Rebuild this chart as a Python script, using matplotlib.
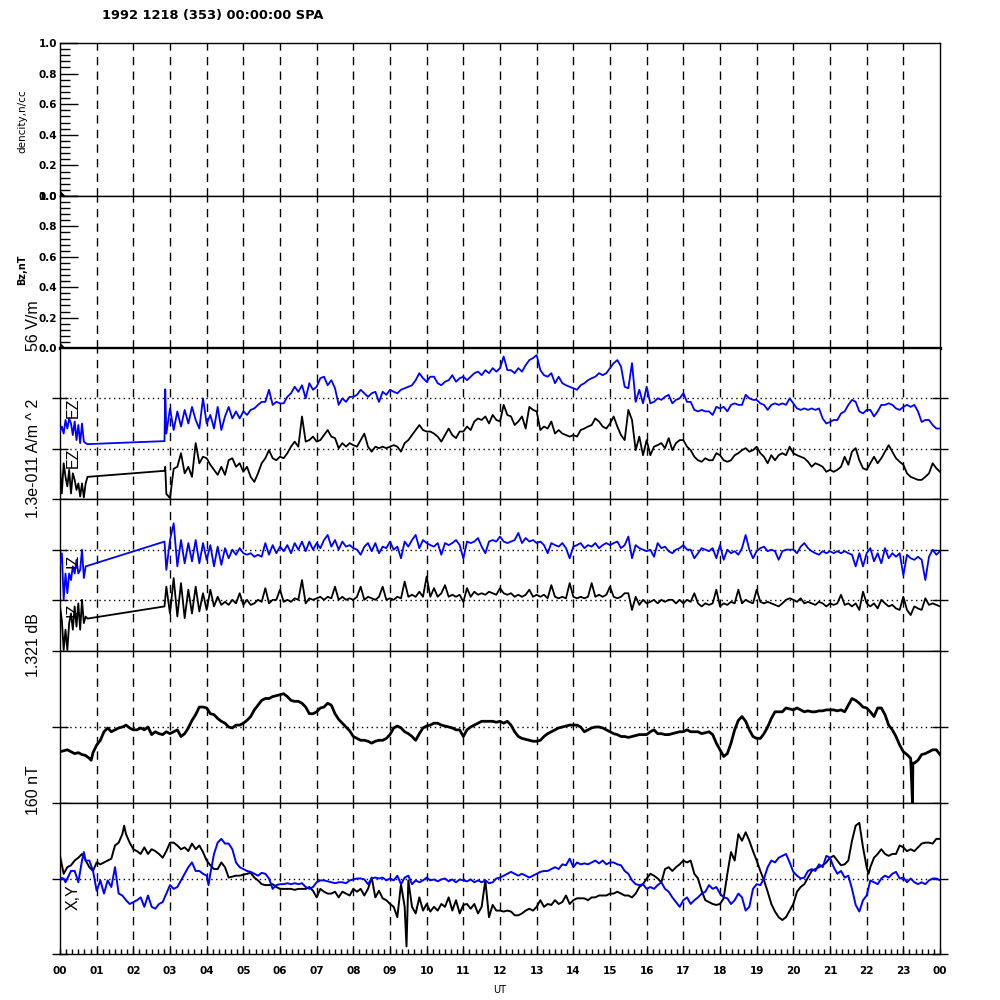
import numpy as np
import matplotlib
matplotlib.use("Agg")
import matplotlib.pyplot as plt
from matplotlib.ticker import MultipleLocator, FixedLocator

plt.rcParams['font.family'] = ['DejaVu Sans']

# ---------------- text ----------------
TITLE = "1992 1218 (353) 00:00:00 SPA"
HOUR_LABELS = ['00', '01', '02', '03', '04', '05', '06', '07', '08', '09', '10', '11',
               '12', '13', '14', '15', '16', '17', '18', '19', '20', '21', '22', '23', '00']
XLABEL = "UT"
DENS_LABEL = "dencity,n/cc"
BZ_LABEL = "Bz,nT"
EFIELD_LABEL = "56 V/m"
CURRENT_LABEL = "1.3e-011 A/m ^ 2"
DB_LABEL = "1.321 dB"
NT_LABEL = "160 nT"
TOP_YTICKS = [0.0, 0.2, 0.4, 0.6, 0.8, 1.0]
TOP_YTICK_LABELS = ['0.0', '0.2', '0.4', '0.6', '0.8', '1.0']

# ---------------- data ----------------
# panels 1-2 (nearly empty)
dens_t = [0.0, 0.08]
dens_v = [0.02, 0.0]
bz_t = [0.0, 0.08]
bz_v = [0.02, 0.0]

# panel 3 : EZ (two offset traces, 0..3 units); early samples every 0.05 h from 0.0
ez_blue_early = [1.34, 1.44, 1.30, 1.57, 1.40, 1.60, 1.50, 1.27, 1.54, 1.17, 1.47, 1.11, 1.50, 1.14, 1.11]
ez_black_early = [0.64, 0.11, 0.71, 0.44, 0.25, 0.58, 0.11, 0.51, 0.38, 0.18, 0.31, 0.05, 0.31, 0.03, 0.31]
ez_blue_extra_t = [0.75, 2.85, 2.87]
ez_blue_extra_v = [1.09, 1.15, 2.18]
ez_black_extra_t = [0.75, 2.85, 2.87]
ez_black_extra_v = [0.44, 0.56, 0.64]
# main samples every 0.1 h from 2.9 to 24.0
ez_blue_main = [1.30,
    1.80, 1.37, 1.74, 1.44, 1.77, 1.50, 1.83, 1.57, 1.40, 2.00,
    1.50, 1.67, 1.40, 1.83, 1.37, 1.64, 1.83, 1.60, 1.74, 1.60,
    1.74, 1.67, 1.77, 1.80, 1.87, 1.93, 1.93, 2.17, 1.87, 1.93,
    1.90, 1.90, 2.03, 2.10, 2.23, 2.13, 2.26, 2.00, 2.30, 2.17,
    2.23, 2.40, 2.43, 2.26, 2.36, 2.20, 1.87, 2.00, 1.93, 2.03,
    2.03, 2.07, 2.17, 2.10, 2.03, 2.10, 2.13, 1.93, 2.13, 2.07,
    2.17, 2.13, 2.10, 2.17, 2.20, 2.23, 2.26, 2.36, 2.50, 2.40,
    2.33, 2.43, 2.43, 2.30, 2.26, 2.33, 2.36, 2.46, 2.33, 2.40,
    2.43, 2.36, 2.43, 2.50, 2.53, 2.46, 2.56, 2.50, 2.60, 2.53,
    2.60, 2.83, 2.56, 2.56, 2.50, 2.60, 2.53, 2.66, 2.76, 2.80,
    2.86, 2.56, 2.46, 2.43, 2.50, 2.30, 2.43, 2.30, 2.26, 2.23,
    2.20, 2.17, 2.26, 2.30, 2.36, 2.40, 2.43, 2.50, 2.46, 2.50,
    2.60, 2.70, 2.76, 2.63, 2.23, 2.20, 2.70, 1.93, 2.17, 1.90,
    2.23, 1.90, 1.93, 2.00, 1.97, 2.03, 2.07, 1.90, 1.97, 2.00,
    2.10, 1.93, 1.93, 1.77, 1.74, 1.77, 1.74, 1.74, 1.67, 1.83,
    1.80, 1.83, 1.74, 1.87, 1.90, 1.87, 1.87, 2.07, 2.00, 1.97,
    1.97, 1.90, 1.87, 1.77, 1.87, 1.90, 1.87, 1.90, 1.87, 2.00,
    1.90, 1.80, 1.77, 1.80, 1.77, 1.80, 1.77, 1.80, 1.60, 1.50,
    1.53, 1.57, 1.57, 1.70, 1.74, 1.87, 1.97, 1.93, 1.74, 1.70,
    1.77, 1.77, 1.64, 1.74, 1.87, 1.87, 1.90, 1.87, 1.80, 1.77,
    1.83, 1.87, 1.83, 1.87, 1.74, 1.53, 1.57, 1.57, 1.47, 1.40,
    1.40]
ez_black_main = [0.10,
    0.02, 0.60, 0.64, 0.91, 0.51, 0.64, 0.44, 1.11, 0.71, 0.84,
    0.81, 0.68, 0.58, 0.48, 0.64, 0.48, 0.77, 0.81, 0.64, 0.71,
    0.54, 0.64, 0.44, 0.34, 0.51, 0.71, 0.81, 0.97, 0.81, 0.77,
    0.84, 0.81, 0.91, 1.04, 1.14, 1.04, 1.64, 1.14, 1.17, 1.24,
    1.14, 1.17, 1.27, 1.37, 1.24, 1.21, 1.01, 1.11, 1.04, 1.11,
    1.07, 1.04, 1.17, 1.30, 1.04, 0.94, 1.04, 1.01, 1.04, 1.01,
    1.04, 1.07, 1.04, 0.94, 1.11, 1.17, 1.27, 1.37, 1.47, 1.37,
    1.34, 1.34, 1.30, 1.24, 1.14, 1.27, 1.40, 1.27, 1.21, 1.34,
    1.34, 1.44, 1.37, 1.54, 1.60, 1.57, 1.64, 1.50, 1.67, 1.57,
    1.54, 1.87, 1.67, 1.64, 1.47, 1.54, 1.64, 1.40, 1.83, 1.77,
    1.74, 1.37, 1.44, 1.40, 1.54, 1.30, 1.37, 1.30, 1.27, 1.24,
    1.27, 1.24, 1.37, 1.40, 1.44, 1.47, 1.60, 1.54, 1.44, 1.40,
    1.50, 1.64, 1.44, 1.27, 1.17, 1.77, 1.57, 0.97, 1.24, 0.87,
    1.17, 0.87, 1.04, 1.07, 1.11, 1.01, 1.21, 0.97, 1.11, 1.17,
    1.17, 1.04, 0.97, 0.84, 0.77, 0.74, 0.81, 0.77, 0.77, 0.91,
    0.87, 0.77, 0.74, 0.77, 0.87, 0.91, 0.97, 1.01, 0.94, 0.97,
    1.04, 0.91, 0.84, 0.71, 0.87, 0.77, 0.87, 0.91, 0.87, 1.04,
    0.91, 0.87, 0.84, 0.81, 0.74, 0.64, 0.71, 0.68, 0.64, 0.54,
    0.58, 0.54, 0.58, 0.64, 0.84, 0.68, 0.94, 1.01, 0.77, 0.61,
    0.58, 0.71, 0.84, 0.71, 0.81, 0.94, 1.07, 0.94, 0.81, 0.74,
    0.68, 0.51, 0.44, 0.41, 0.38, 0.38, 0.44, 0.51, 0.71, 0.61,
    0.54]

# panel 4 : IZ (two offset traces, 0..3 units)
iz_blue_early = [1.70, 1.93, 1.01, 1.53, 1.14, 1.53, 1.40, 1.67, 1.53, 1.80, 1.53, 1.60, 2.00, 1.44, 1.67]
iz_black_early = [0.88, 0.61, 0.02, 0.42, 0.02, 0.55, 0.74, 0.42, 0.88, 0.48, 0.94, 0.42, 1.01, 0.55, 0.68]
iz_blue_extra_t = [2.85]
iz_blue_extra_v = [2.16]
iz_black_extra_t = [0.75, 2.85]
iz_black_extra_v = [0.64, 0.88]
iz_blue_main = [1.60,
    2.19, 2.52, 1.67, 2.19, 1.73, 2.13, 1.77, 2.19, 1.73, 2.13,
    1.80, 2.09, 1.67, 2.06, 1.70, 2.03, 1.83, 2.00, 1.90, 2.03,
    1.93, 1.90, 1.93, 1.86, 1.90, 1.86, 2.13, 1.90, 2.09, 1.93,
    2.06, 1.97, 2.09, 1.93, 2.13, 2.00, 2.16, 1.97, 2.16, 2.00,
    2.13, 2.03, 2.19, 2.29, 2.06, 2.19, 2.00, 2.16, 2.06, 2.09,
    2.03, 2.00, 1.90, 2.06, 2.13, 1.97, 2.13, 1.93, 2.06, 2.03,
    2.16, 2.00, 2.06, 1.83, 2.16, 2.06, 2.19, 2.29, 2.03, 2.19,
    2.13, 2.09, 2.06, 2.13, 1.90, 2.13, 2.09, 2.13, 2.19, 2.09,
    1.83, 2.16, 2.13, 2.16, 2.23, 2.06, 1.93, 2.16, 2.19, 2.16,
    2.26, 2.16, 2.13, 2.16, 2.19, 2.33, 2.13, 2.23, 2.16, 2.19,
    2.13, 2.16, 2.09, 1.93, 2.13, 2.09, 2.06, 2.13, 2.03, 1.83,
    2.06, 2.09, 2.13, 2.03, 2.09, 2.06, 2.13, 2.03, 2.09, 2.13,
    2.09, 2.13, 2.16, 2.03, 2.09, 2.26, 1.83, 2.09, 2.03, 2.00,
    1.97, 2.00, 1.86, 2.13, 2.03, 2.06, 1.97, 1.93, 2.00, 2.03,
    2.09, 2.00, 2.00, 1.83, 1.93, 2.03, 2.00, 1.97, 2.03, 1.83,
    2.09, 1.80, 2.00, 1.93, 1.97, 1.90, 2.03, 2.29, 2.00, 1.83,
    1.97, 2.03, 2.06, 1.97, 2.00, 1.97, 1.80, 1.97, 2.00, 2.00,
    2.00, 1.93, 2.06, 2.13, 2.03, 1.97, 1.93, 1.90, 1.97, 1.93,
    1.97, 1.93, 1.97, 1.93, 1.97, 1.93, 1.90, 1.67, 1.93, 1.67,
    1.93, 2.03, 1.77, 1.93, 1.73, 2.03, 1.83, 1.93, 1.86, 1.93,
    1.50, 1.90, 1.83, 1.80, 1.86, 1.80, 1.40, 1.86, 2.00, 1.90,
    1.97]
iz_black_main = [1.27,
    0.74, 1.44, 0.68, 1.34, 0.65, 1.21, 0.74, 1.27, 0.78, 1.14,
    0.81, 1.21, 0.88, 1.07, 0.91, 0.97, 0.91, 1.01, 0.94, 1.14,
    0.91, 1.01, 0.91, 0.94, 1.01, 0.97, 1.24, 0.94, 1.01, 1.01,
    1.21, 0.97, 1.01, 0.97, 1.04, 1.01, 1.40, 0.94, 1.04, 1.01,
    1.04, 1.07, 1.01, 1.07, 1.04, 1.27, 1.01, 1.07, 1.01, 1.04,
    1.01, 1.07, 1.27, 1.01, 1.07, 1.04, 1.01, 1.07, 1.27, 1.01,
    1.04, 1.01, 1.07, 1.04, 1.37, 1.07, 1.11, 1.07, 1.17, 1.07,
    1.47, 1.07, 1.24, 1.07, 1.14, 1.30, 1.07, 1.11, 1.07, 1.11,
    0.97, 1.24, 1.07, 1.17, 1.11, 1.14, 1.11, 1.17, 1.14, 1.11,
    1.24, 1.14, 1.11, 1.14, 1.07, 1.11, 1.07, 1.11, 1.21, 1.07,
    1.11, 1.07, 1.11, 1.04, 1.30, 1.07, 1.04, 1.07, 1.04, 1.34,
    1.07, 1.04, 1.07, 1.04, 1.07, 1.34, 1.07, 1.11, 1.07, 1.11,
    1.27, 1.07, 1.04, 1.07, 1.14, 1.14, 0.81, 1.07, 0.91, 1.01,
    0.94, 0.97, 1.01, 0.94, 1.01, 0.97, 1.01, 1.01, 0.94, 1.01,
    0.94, 1.01, 0.97, 1.14, 0.94, 0.88, 0.94, 0.91, 0.94, 1.21,
    0.88, 0.94, 0.91, 0.97, 0.94, 1.21, 0.94, 1.01, 0.97, 0.94,
    1.21, 0.97, 0.94, 0.97, 0.94, 0.91, 0.88, 0.94, 1.01, 1.04,
    1.01, 0.97, 1.04, 0.94, 0.97, 0.94, 0.91, 0.97, 0.94, 0.88,
    0.94, 0.91, 0.94, 1.11, 0.91, 0.94, 0.88, 0.94, 0.81, 1.17,
    0.94, 0.88, 0.94, 0.84, 1.01, 0.94, 0.88, 0.91, 0.84, 0.81,
    1.07, 0.81, 0.71, 0.88, 0.84, 0.81, 1.04, 0.91, 0.94, 0.91,
    0.88]

# panel 5 : magnetic field magnitude, nT (every 0.1 h, 0..24)
bmag_nt = [
    -26, -25, -24, -26, -28, -27, -29, -30, -33, -27,
    -19, -14, -5, -1, -5, -3, -1, 0, 2, -1,
    -3, -3, -1, -3, 0, -8, -5, -7, -8, -5,
    -7, -5, -3, -10, -7, -1, 7, 13, 21, 21,
    20, 14, 13, 9, 6, 4, 0, -1, 2, 2,
    4, 7, 11, 18, 23, 28, 30, 30, 32, 33,
    34, 35, 32, 28, 27, 27, 25, 21, 14, 14,
    16, 20, 21, 25, 23, 14, 8, 4, 0, -4,
    -10, -12, -14, -14, -15, -17, -15, -14, -14, -12,
    -8, -1, 1, -1, -5, -7, -10, -14, -7, -1,
    1, 2, 4, 4, 2, 1, 0, -1, -3, -3,
    -10, -3, 0, 2, 4, 6, 6, 6, 6, 5,
    6, 4, 6, 2, -5, -10, -12, -13, -14, -15,
    -15, -14, -10, -7, -5, -3, -1, 0, 1, 2,
    2, 2, 0, -5, -3, -1, 0, 0, -1, -3,
    -5, -7, -8, -10, -10, -11, -10, -9, -8, -8,
    -8, -5, -3, -7, -7, -8, -8, -7, -6, -5,
    -5, -3, -5, -5, -5, -7, -6, -5, -8, -17,
    -24, -31, -28, -17, -3, 7, 11, 6, -3, -10,
    -12, -12, -7, 0, 9, 16, 16, 16, 20, 19,
    18, 20, 18, 16, 17, 16, 16, 17, 17, 18,
    18, 18, 17, 18, 16, 23, 30, 28, 25, 21,
    20, 16, 11, 20, 20, 13, 2, -3, -10, -19,
    -26, -29, -33, -38, -35, -29, -28, -26, -24, -24,
    -29]
bmag_extra_t = [0.85, 23.25, 23.26]
bmag_extra_v = [-35, -80, -38]

# panel 6 : X (black) and Y (blue) components, nT (every 0.1 h, 0..24)
bx_nt = [
    24, 5, 12, 14, 19, 22, 26, 19, 12, 8,
    17, 15, 17, 19, 21, 35, 38, 47, 47, 38,
    31, 29, 26, 33, 26, 31, 29, 26, 22, 29,
    38, 38, 35, 31, 33, 29, 37, 31, 35, 28,
    19, 14, 10, 10, 17, 12, 1, 2, 3, 3,
    4, 5, 6, 1, -2, -6, -7, -7, -6, -9,
    -11, -11, -11, -11, -12, -11, -11, -11, -9, -13,
    -20, -11, -14, -16, -16, -14, -20, -14, -16, -18,
    -11, -14, -11, -18, -11, 1, -20, -13, -21, -23,
    -27, -30, -41, -6, -30, -2, -30, -37, -20, -34,
    -27, -35, -30, -34, -27, -30, -20, -34, -23, -37,
    -28, -27, -32, -27, -37, -30, -2, -41, -28, -34,
    -34, -35, -34, -35, -39, -39, -37, -34, -32, -34,
    -30, -23, -30, -27, -28, -23, -27, -25, -18, -27,
    -23, -21, -21, -21, -23, -20, -20, -18, -18, -18,
    -16, -16, -14, -16, -18, -18, -20, -16, -9, -6,
    0, 5, 3, 0, -4, 10, 12, 8, 12, 15,
    19, 17, 19, 5, 0, -13, -23, -25, -27, -28,
    -27, -21, 5, 28, 19, 47, 40, 49, 40, 29,
    19, 8, -2, -14, -27, -35, -41, -44, -41, -34,
    -27, -14, -9, -6, 1, 8, 10, 12, 14, 17,
    22, 24, 19, 14, 15, 19, 40, 56, 59, 33,
    12, 12, 22, 26, 31, 26, 24, 26, 26, 35,
    33, 29, 31, 29, 33, 37, 38, 38, 37, 42,
    42]
bx_extra_t = [1.75, 9.45, 22.05]
bx_extra_v = [56, -72, 5]
by_nt = [
    1, 0, 0, 8, 8, -4, 19, 19, 19, 8,
    -13, -2, -16, -2, -9, 12, -16, -18, -23, -27,
    -25, -23, -20, -30, -18, -30, -32, -27, -25, -16,
    -7, -11, -9, -2, 5, 12, 17, 8, 8, 5,
    3, 5, 26, 38, 42, 37, 37, 31, 17, 12,
    10, 8, 7, 5, 3, 6, 5, 0, -11, -7,
    -6, -6, -5, -6, -5, -6, -5, -9, -11, -9,
    -4, -2, -2, -3, -4, -5, -4, -4, -5, -2,
    -1, 0, 0, -1, -6, 0, 1, 0, 1, -2,
    0, -2, 3, -6, 1, 3, -6, -2, -4, -2,
    1, -2, -1, -3, -1, 0, -3, -1, -4, -1,
    -2, -3, -1, -4, -2, -4, -2, -5, -4, 0,
    1, 3, 5, 7, 5, 3, 5, 3, 1, 3,
    5, 7, 8, 8, 10, 12, 10, 15, 14, 21,
    12, 17, 15, 16, 15, 17, 19, 16, 19, 15,
    17, 17, 15, 14, 8, 5, -2, -6, -7, -6,
    -11, -9, -11, -7, -4, -11, -14, -20, -25, -30,
    -23, -20, -27, -23, -20, -16, -14, -7, -11, -9,
    -16, -20, -21, -27, -23, -16, -20, -34, -30, -11,
    -6, -7, 0, 12, 19, 17, 22, 24, 26, 17,
    7, 3, 0, 1, 8, 10, 8, 15, 12, 24,
    22, 12, 5, 8, 1, 3, -11, -28, -35, -23,
    -18, -2, -4, -6, 0, 3, 1, 5, 7, 0,
    1, -4, 0, -4, -6, -4, -6, -2, 0, 0,
    -2]
by_extra_t = [0.15, 0.65, 4.05]
by_extra_v = [-4, 28, -7]

# ---------------- time axes ----------------
T_EARLY = 0.05 * np.arange(len(ez_blue_early))
T_MAIN = 2.9 + 0.1 * np.arange(len(ez_blue_main))
T_FULL = 0.1 * np.arange(len(bmag_nt))
for arr in (ez_black_main, iz_blue_main, iz_black_main):
    assert len(arr) == len(T_MAIN), len(arr)
for arr in (bx_nt, by_nt):
    assert len(arr) == len(T_FULL), len(arr)
assert len(T_MAIN) == 212 and len(T_FULL) == 241


def merge(parts_t, parts_v):
    t = np.concatenate([np.asarray(p, float) for p in parts_t])
    v = np.concatenate([np.asarray(p, float) for p in parts_v])
    o = np.argsort(t, kind='stable')
    return t[o], v[o]


BLUE = '#0000ff'
BLACK = '#000000'
DASH = (0, (6, 4.5))
DOT = (0, (1, 2.5))
HELV = ['Liberation Sans', 'DejaVu Sans']

fig = plt.figure(figsize=(10, 10), dpi=100)
W = 1000.0


def panel(top, bot):
    return fig.add_axes([60 / W, 1 - bot / W, 880 / W, (bot - top) / W])


edges = [43, 196, 348, 499, 651, 803, 954]
axes = [panel(edges[i], edges[i + 1]) for i in range(6)]

for i, ax in enumerate(axes):
    ax.set_xlim(0, 24)
    for h in range(1, 24):
        ax.axvline(h, color=BLACK, lw=1.0, ls=DASH, zorder=1)
    for s in ax.spines.values():
        s.set_linewidth(1.0)
    if i < 5:
        ax.tick_params(axis='x', which='both', bottom=False, top=False, labelbottom=False)

# panels 1 & 2
for ax, t, v in ((axes[0], dens_t, dens_v), (axes[1], bz_t, bz_v)):
    ax.set_ylim(0, 1)
    ax.plot(t, v, color=BLACK, lw=2.5, zorder=3)
    ax.yaxis.set_major_locator(FixedLocator(TOP_YTICKS))
    ax.set_yticklabels(TOP_YTICK_LABELS, fontsize=7.5, fontweight='bold')
    ax.yaxis.set_minor_locator(MultipleLocator(0.04))
    ax.tick_params(axis='y', which='major', direction='in', length=13, width=1, pad=2)
    ax.tick_params(axis='y', which='minor', direction='in', length=7, width=1)
axes[1].spines['bottom'].set_linewidth(2.4)
fig.text(22 / W, 1 - 121 / W, DENS_LABEL, rotation=90, ha='center', va='center', fontsize=7.5)
fig.text(22 / W, 1 - 270 / W, BZ_LABEL, rotation=90, ha='center', va='center', fontsize=7, fontweight='bold')

# panel 3 : EZ
ax = axes[2]
ax.set_ylim(0, 3)
for lvl in (1, 2):
    ax.axhline(lvl, color=BLACK, lw=1.0, ls=DOT, zorder=1)
t, v = merge([T_EARLY, ez_blue_extra_t, T_MAIN], [ez_blue_early, ez_blue_extra_v, ez_blue_main])
ax.plot(t, v, color=BLUE, lw=1.3, zorder=3)
t, v = merge([T_EARLY, ez_black_extra_t, T_MAIN], [ez_black_early, ez_black_extra_v, ez_black_main])
ax.plot(t, v, color=BLACK, lw=1.3, zorder=3)

# panel 4 : IZ
ax = axes[3]
ax.set_ylim(0, 3)
for lvl in (1, 2):
    ax.axhline(lvl, color=BLACK, lw=1.0, ls=DOT, zorder=1)
t, v = merge([T_EARLY, iz_blue_extra_t, T_MAIN], [iz_blue_early, iz_blue_extra_v, iz_blue_main])
ax.plot(t, v, color=BLUE, lw=1.3, zorder=3)
t, v = merge([T_EARLY, iz_black_extra_t, T_MAIN], [iz_black_early, iz_black_extra_v, iz_black_main])
ax.plot(t, v, color=BLACK, lw=1.3, zorder=3)

# panel 5 : |B|
ax = axes[4]
ax.set_ylim(-80, 80)
ax.axhline(0, color=BLACK, lw=1.0, ls=DOT, zorder=1)
t, v = merge([T_FULL, bmag_extra_t], [bmag_nt, bmag_extra_v])
ax.plot(t, v, color=BLACK, lw=2.0, zorder=3)

# panel 6 : X, Y
ax = axes[5]
ax.set_ylim(-80, 80)
ax.axhline(0, color=BLACK, lw=1.0, ls=DOT, zorder=1)
t, v = merge([T_FULL, bx_extra_t], [bx_nt, bx_extra_v])
ax.plot(t, v, color=BLACK, lw=1.4, zorder=3)
t, v = merge([T_FULL, by_extra_t], [by_nt, by_extra_v])
ax.plot(t, v, color=BLUE, lw=1.4, zorder=3)

# y ticks on the lower panels (no labels)
for ax, ticks in ((axes[2], [0, 1, 2]), (axes[3], [0, 1, 2]), (axes[4], [-80, 0]), (axes[5], [-80, 0])):
    ax.yaxis.set_major_locator(FixedLocator(ticks))
    ax.set_yticklabels([''] * len(ticks))
    ax.tick_params(axis='y', which='major', direction='inout', length=11.5, width=1,
                   left=True, right=True)

# bottom x axis
ax = axes[5]
ax.xaxis.set_major_locator(FixedLocator(list(range(25))))
ax.set_xticklabels(HOUR_LABELS, fontsize=7.5, fontweight='bold')
ax.xaxis.set_minor_locator(MultipleLocator(1 / 6))
ax.tick_params(axis='x', which='both', direction='in', length=3.5, width=1, top=False, pad=9)
fig.text(500 / W, 1 - 990 / W, XLABEL, ha='center', va='center', fontsize=7)

# unit labels
for txt, yc in ((EFIELD_LABEL, 326), (CURRENT_LABEL, 458), (DB_LABEL, 645), (NT_LABEL, 790)):
    fig.text(33 / W, 1 - yc / W, txt, rotation=90, ha='center', va='center',
             fontsize=11.5, family=HELV)

# trace labels inside panels
for txt, yc in (("EZ", 408), ("EZ", 458), ("IZ", 561), ("IZ", 610), ("X,Y", 897)):
    fig.text(73 / W, 1 - yc / W, txt, rotation=90, ha='center', va='center',
             fontsize=11.5, family=HELV)

fig.text(102 / W, 1 - 15 / W, TITLE, ha='left', va='center', fontsize=9.4, fontweight='bold')

fig.savefig("out.png", dpi=100)
